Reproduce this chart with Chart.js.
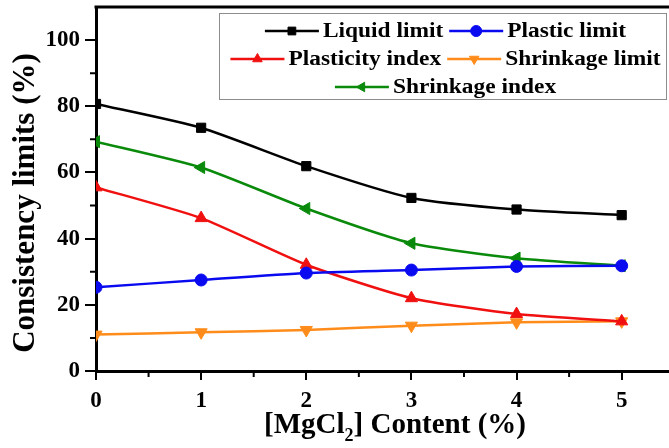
<!DOCTYPE html>
<html>
<head>
<meta charset="utf-8">
<script src="https://cdn.jsdelivr.net/npm/chart.js@4.4.1/dist/chart.umd.min.js"></script>
<style>
  body { margin: 0; background: #fff; }
  canvas { display: block; }
</style>
</head>
<body>
<canvas id="chart" width="669" height="448"></canvas>
<script>
const contents = [0, 1, 2, 3, 4, 5];
const liquidLimit = [80.7, 73.5, 61.9, 52.3, 48.8, 47.1];
const plasticLimit = [25.3, 27.5, 29.6, 30.5, 31.6, 31.8];
const plasticityIndex = [55.5, 46.2, 32.1, 22.0, 17.2, 15.0];
const shrinkageLimit = [11.0, 11.7, 12.4, 13.7, 14.7, 15.0];
const shrinkageIndex = [69.3, 61.5, 49.1, 38.6, 34.1, 31.8];
const xTicks = [0, 1, 2, 3, 4, 5];
const yTicks = [0, 20, 40, 60, 80, 100];

const serif = "'Liberation Serif', 'DejaVu Serif', serif";

function toPoints(values) {
    return contents.map((x, i) => ({ x: x, y: values[i] }));
}

function series(label, values, color, pointStyle, rotation) {
    return {
        label: label,
        data: toPoints(values),
        borderColor: color,
        backgroundColor: color,
        borderWidth: 2.5,
        pointStyle: pointStyle,
        rotation: rotation || 0,
        pointRadius: 7,
        pointBorderWidth: 1,
        tension: 0.2,
    };
}

const datasets = [
    series("Liquid limit", liquidLimit, "#000000", "rect"),
    series("Plastic limit", plasticLimit, "#0a0af0", "circle"),
    series("Plasticity index", plasticityIndex, "#f01010", "triangle"),
    series("Shrinkage limit", shrinkageLimit, "#ff8c1a", "triangle", 180),
    series("Shrinkage index", shrinkageIndex, "#0a8a0a", "triangle", -90),
];
datasets[0].pointRadius = 6.5;
datasets[1].pointRadius = 6;

// legend rows (dataset indices)
const legendRows = [[0, 1], [2, 3], [4]];

// the source figure's lettering is a bit wider than Liberation Serif
function wideText(ctx, text, x, y, sx) {
    ctx.save();
    ctx.translate(x, y);
    ctx.scale(sx, 1);
    ctx.fillText(text, 0, 0);
    ctx.restore();
}

const framePlugin = {
    id: "frame",
    afterDraw(chart) {
        const ctx = chart.ctx;
        const area = chart.chartArea;
        const xs = chart.scales.x;
        const ys = chart.scales.y;
        ctx.save();
        ctx.strokeStyle = "#000";

        // minor ticks
        ctx.lineWidth = 2;
        ctx.beginPath();
        for (let v = 10; v < 110; v += 20) {
            const y = ys.getPixelForValue(v);
            ctx.moveTo(area.left, y);
            ctx.lineTo(area.left - 6, y);
        }
        for (let v = 0.5; v < 5.45; v += 1) {
            const x = xs.getPixelForValue(v);
            ctx.moveTo(x, area.bottom);
            ctx.lineTo(x, area.bottom + 6);
        }
        ctx.stroke();

        // top border
        ctx.lineWidth = 3;
        ctx.beginPath();
        ctx.moveTo(area.left - 1.5, area.top);
        ctx.lineTo(area.right, area.top);
        ctx.stroke();

        // axis titles
        ctx.fillStyle = "#000";
        ctx.font = "bold 31px " + serif;
        ctx.textBaseline = "alphabetic";
        ctx.textAlign = "center";
        ctx.save();
        ctx.translate(34, 203);
        ctx.rotate(-Math.PI / 2);
        ctx.fillText("Consistency limits (%)", 0, 0);
        ctx.restore();

        const parts = [["[MgCl", 0], ["2", 1], ["] Content (%)", 0]];
        const big = "bold 29px " + serif;
        const small = "bold 18px " + serif;
        let total = 0;
        parts.forEach((p) => {
            ctx.font = p[1] ? small : big;
            total += ctx.measureText(p[0]).width;
        });
        let cx = 395 - total / 2;
        ctx.textAlign = "left";
        parts.forEach((p) => {
            ctx.font = p[1] ? small : big;
            ctx.fillText(p[0], cx, p[1] ? 441 : 433);
            cx += ctx.measureText(p[0]).width;
        });

        // legend
        const box = { left: 219, top: 13, right: 666, bottom: 99 };
        ctx.fillStyle = "#fff";
        ctx.fillRect(box.left, box.top, box.right - box.left, box.bottom - box.top);
        ctx.lineWidth = 1;
        ctx.strokeStyle = "#8c8c8c";
        ctx.strokeRect(box.left + 0.5, box.top + 0.5, box.right - box.left, box.bottom - box.top);

        const rowY = [31, 59, 87];
        const sampleW = 54;
        const sx = 1.17;
        ctx.font = "bold 20px " + serif;
        ctx.textBaseline = "middle";
        const centerX = (box.left + box.right) / 2 + 3;
        legendRows.forEach((row, r) => {
            let w = 0;
            row.forEach((i, k) => {
                w += sampleW + 4 + sx * ctx.measureText(datasets[i].label).width;
                if (k > 0) w += 6;
            });
            let x = centerX - w / 2;
            row.forEach((i, k) => {
                if (k > 0) x += 6;
                const ds = datasets[i];
                const y = rowY[r];
                ctx.strokeStyle = ds.borderColor;
                ctx.lineWidth = 2.5;
                ctx.beginPath();
                ctx.moveTo(x, y);
                ctx.lineTo(x + sampleW, y);
                ctx.stroke();
                ctx.fillStyle = ds.backgroundColor;
                ctx.lineWidth = 1;
                Chart.helpers.drawPoint(ctx, {
                    pointStyle: ds.pointStyle,
                    rotation: ds.rotation,
                    radius: 5.5,
                    borderWidth: 1,
                }, x + sampleW / 2, y);
                x += sampleW + 4;
                ctx.fillStyle = "#000";
                wideText(ctx, ds.label, x, y + 1, sx);
                x += sx * ctx.measureText(ds.label).width;
            });
        });
        ctx.restore();
    },
};

function noPadding(scale) {
    scale.paddingTop = 0;
    scale.paddingBottom = 0;
    scale.paddingLeft = 0;
    scale.paddingRight = 0;
}

new Chart(document.getElementById("chart"), {
    type: "line",
    data: { datasets: datasets },
    options: {
        responsive: false,
        animation: false,
        layout: { autoPadding: false, padding: { top: 7, right: 0, left: 0, bottom: 0 } },
        plugins: {
            legend: { display: false },
            tooltip: { enabled: false },
        },
        scales: {
            x: {
                type: "linear",
                min: 0,
                max: 5.45,
                afterBuildTicks: (scale) => {
                    scale.ticks = xTicks.map((v) => ({ value: v }));
                },
                afterFit: (scale) => {
                    scale.height = 448 - 371;
                    noPadding(scale);
                },
                border: { display: true, color: "#000", width: 3 },
                grid: { display: true, drawOnChartArea: false, color: "#000", lineWidth: 2, tickLength: 9 },
                ticks: {
                    color: "#000",
                    padding: 7,
                    font: { family: serif, size: 23, weight: "bold" },
                },
            },
            y: {
                min: 0,
                max: 110,
                afterBuildTicks: (scale) => {
                    scale.ticks = yTicks.map((v) => ({ value: v }));
                },
                afterFit: (scale) => {
                    scale.width = 96;
                    noPadding(scale);
                },
                border: { display: true, color: "#000", width: 3 },
                grid: { display: true, drawOnChartArea: false, color: "#000", lineWidth: 2, tickLength: 11 },
                ticks: {
                    color: "#000",
                    padding: 5,
                    font: { family: serif, size: 23, weight: "bold" },
                },
            },
        },
    },
    plugins: [framePlugin],
});
</script>
</body>
</html>
